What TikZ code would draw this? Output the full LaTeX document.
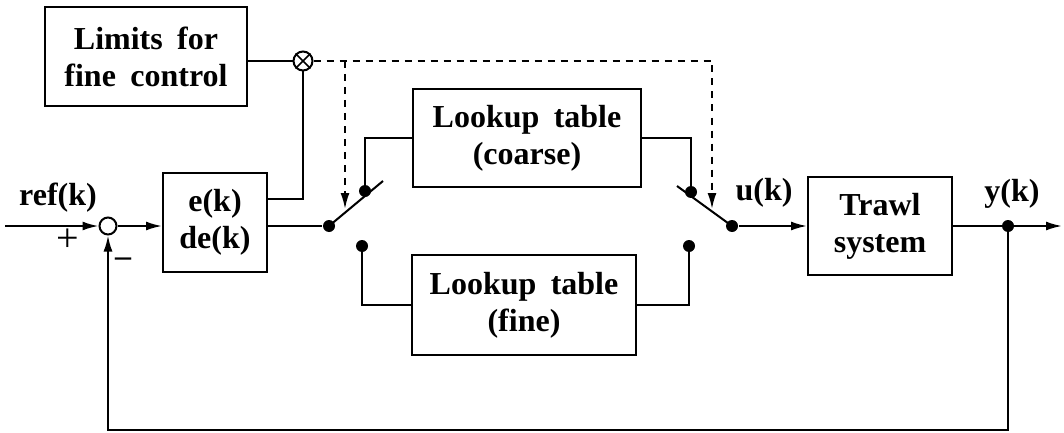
\documentclass[tikz,border=0pt]{standalone}
\usepackage{fontspec}
\setmainfont{Liberation Serif}
\usetikzlibrary{arrows.meta}
\newcommand\diafont{\bfseries\fontsize{32}{37}\selectfont\spaceskip=0.45em\relax}
\begin{document}
\begin{tikzpicture}[x=1pt,y=-1pt,
  line width=2pt,
  every node/.style={font=\diafont},
  blk/.style={draw,align=center,inner sep=0pt},
  dot/.style={circle,fill,inner sep=0pt,minimum size=12pt},
  junc/.style={circle,draw,inner sep=0pt,minimum size=17pt},
  arr/.style={-{Latex[length=16pt,width=9pt]}},
  lbl/.style={inner sep=0pt}]
\useasboundingbox (0,0) rectangle (1064,433);

% blocks
\node[blk,minimum width=202pt,minimum height=99pt] (lim) at (146,56.5) {Limits for\\fine control};
\node[blk,minimum width=104pt,minimum height=99pt] (ek) at (215,222.5) {e(k)\\de(k)};
\node[blk,minimum width=228pt,minimum height=98pt] (coarse) at (527,138) {Lookup table\\(coarse)};
\node[blk,minimum width=224pt,minimum height=100pt] (fine) at (524,305) {Lookup table\\(fine)};
\node[blk,minimum width=144pt,minimum height=98pt] (trawl) at (880,226) {Trawl\\system};

% summing junction and multiplier
\node[junc] (sum) at (108,226) {};
\node[junc,minimum size=19pt] (mul) at (303,61) {};
\draw[line width=1.6pt] (mul.45) -- (mul.225) (mul.135) -- (mul.315);

% switch contacts
\node[dot] (d1) at (329,226) {};
\node[dot] (c1) at (365,191) {};
\node[dot] (c2) at (362,246) {};
\node[dot] (c3) at (691,192) {};
\node[dot] (c4) at (689,246) {};
\node[dot] (d2) at (732,226) {};
\node[dot] (d3) at (1008,226) {};

\coordinate (in) at (5,226);
\coordinate (out) at (1062,226);
\coordinate (lev1) at (383,181);
\coordinate (lev2) at (677,186);
\coordinate (fb) at (1008,430);
\coordinate (sw1) at (345,61);
\coordinate (sw2) at (712,61);

% signal path
\draw[arr] (in) -- (sum);
\draw[arr] (sum) -- (ek.west |- sum);
\draw (ek.east |- d1) -- (d1);
\draw (d1.center) -- (lev1);
\draw (c1.center) |- (coarse.west);
\draw (c2.center) |- (fine.west);
\draw (coarse.east) -| (c3.center);
\draw (fine.east) -| (c4.center);
\draw (lev2) -- (d2.center);
\draw[arr] (d2) -- (trawl.west |- d2);
\draw[arr] (trawl.east |- d3) -- (out);
\draw[arr] (d3.center) -- (fb) -| (sum.south);

% fine-control limit path
\draw (lim.east |- mul) -- (mul.west);
\draw (ek.east |- 0,199) -| (mul.south);
\draw[dash pattern=on 7pt off 6pt,arr] (mul.east) -- (sw2) -- (sw2 |- 0,209);
\draw[dash pattern=on 7pt off 6pt,arr] (sw1) -- (sw1 |- 0,209);

% labels
\node[lbl] (lref) at (58,198) {ref(k)};
\node[lbl,font=\fontsize{40}{40}\selectfont] (lplus) at (68,240) {+};
\node[lbl] (lminus) at (123,262) {\textendash};
\node[lbl] (lu) at (764,193) {u(k)};
\node[lbl] (ly) at (1012,194) {y(k)};
\end{tikzpicture}
\end{document}
